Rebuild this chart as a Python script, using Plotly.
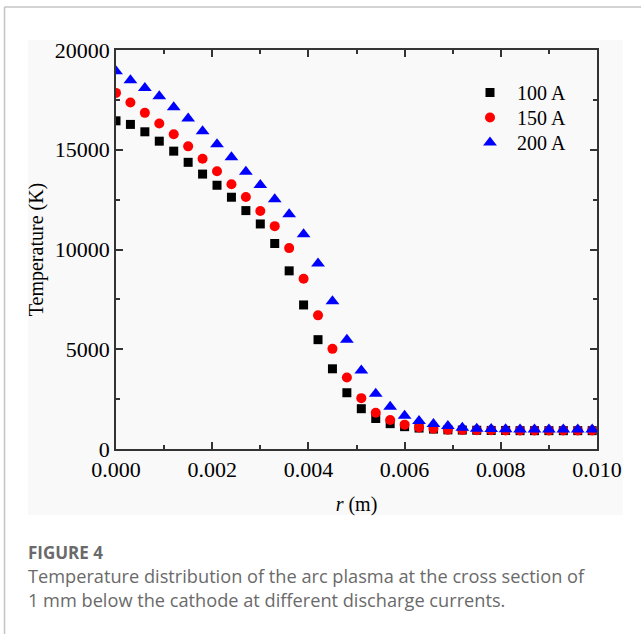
import plotly.graph_objects as go

r_m = [round(i * 0.0003, 4) for i in range(34)]

t_100A = [16450, 16270, 15900, 15430, 14930, 14370, 13780, 13220, 12620, 11950, 11280, 10300,
          8930, 7220, 5480, 4020, 2820, 2020, 1530, 1270, 1120, 1050, 1000, 960, 950, 940,
          930, 930, 920, 920, 920, 920, 920, 920]
t_150A = [17850, 17370, 16850, 16320, 15780, 15170, 14550, 13920, 13270, 12630, 11930, 11170,
          10070, 8530, 6700, 5020, 3580, 2550, 1820, 1450, 1220, 1080, 1020, 970, 950, 940,
          940, 930, 930, 930, 930, 930, 930, 930]
t_200A = [18930, 18480, 18100, 17680, 17130, 16570, 15930, 15270, 14620, 13900, 13230, 12520,
          11770, 10770, 9300, 7400, 5480, 3930, 2770, 2120, 1670, 1400, 1250, 1150, 1070, 1020,
          1000, 990, 980, 980, 980, 980, 980, 980]

series_names = ["100 A", "150 A", "200 A"]
serif = "Liberation Serif, Times New Roman, serif"

fig = go.Figure()
fig.add_trace(go.Scatter(x=r_m, y=t_100A, mode="markers", name=series_names[0], legend="legend",
                         marker=dict(symbol="square", size=9, color="#000000")))
fig.add_trace(go.Scatter(x=r_m, y=t_150A, mode="markers", name=series_names[1], legend="legend2",
                         marker=dict(symbol="circle", size=10, color="#ff0000")))
fig.add_trace(go.Scatter(x=r_m, y=t_200A, mode="markers", name=series_names[2], legend="legend3",
                         marker=dict(symbol="triangle-up", size=12, color="#0000ff")))

W, H = 641, 634
L, R, T, B = 116, 597, 50, 449
pw, ph = R - L, B - T

def px(x):
    return (x - L) / pw

def py(y):
    return (B - y) / ph

shapes = [
    dict(type="rect", xref="paper", yref="paper", x0=px(28), x1=px(623), y0=py(515), y1=py(40),
         fillcolor="#f9f9f9", line=dict(width=0), layer="below"),
    dict(type="line", xref="paper", yref="paper", x0=px(4.5), x1=px(641), y0=py(7), y1=py(7),
         line=dict(color="#c4c4c4", width=1.5)),
    dict(type="line", xref="paper", yref="paper", x0=px(4.5), x1=px(4.5), y0=py(7), y1=py(634),
         line=dict(color="#c4c4c4", width=1.5)),
]

cap_font = "Open Sans, Lato, Noto Sans, sans-serif"
annotations = [
    dict(text="<b>FIGURE 4</b>", xref="paper", yref="paper", x=px(26), y=py(552), xanchor="left",
         yanchor="middle", showarrow=False, font=dict(family=cap_font, size=17, color="#6a6a6a")),
    dict(text="Temperature distribution of the arc plasma at the cross section of", xref="paper",
         yref="paper", x=px(26), y=py(576), xanchor="left", yanchor="middle", showarrow=False,
         font=dict(family=cap_font, size=18.2, color="#6a6a6a")),
    dict(text="1 mm below the cathode at different discharge currents.", xref="paper",
         yref="paper", x=px(26), y=py(600), xanchor="left", yanchor="middle", showarrow=False,
         font=dict(family=cap_font, size=18.2, color="#6a6a6a")),
]

axis_common = dict(showgrid=False, zeroline=False, showline=True, linecolor="#333333",
                   linewidth=1.5, ticks="inside", ticklen=7, tickwidth=1.5, tickcolor="#333333",
                   mirror="allticks",
                   tickfont=dict(family=serif, size=22, color="#000000"))

def leg(top):
    return dict(x=px(463), y=py(top), xanchor="left", yanchor="top", bgcolor="rgba(0,0,0,0)",
                font=dict(family=serif, size=20, color="#000000"), itemwidth=44)

fig.update_layout(
    width=W, height=H,
    margin=dict(l=L, r=W - R, t=T, b=H - B),
    paper_bgcolor="#ffffff", plot_bgcolor="rgba(0,0,0,0)",
    showlegend=True,
    legend=leg(73), legend2=leg(98), legend3=leg(123),
    xaxis=dict(range=[0, 0.01], dtick=0.002, tickformat=".3f",
               minor=dict(dtick=0.001, ticks="inside", ticklen=4, tickwidth=1.5,
                          tickcolor="#333333"),
               title=dict(text="<i>r</i> (m)", standoff=16,
                          font=dict(family=serif, size=20, color="#000000")),
               **axis_common),
    yaxis=dict(range=[0, 20000], dtick=5000, tickformat="d",
               minor=dict(dtick=2500, ticks="inside", ticklen=4, tickwidth=1.5,
                          tickcolor="#333333"),
               title=dict(text="Temperature (K)", standoff=6,
                          font=dict(family=serif, size=20, color="#000000")),
               **axis_common),
    shapes=shapes,
    annotations=annotations,
)

fig.write_html("out.html", config={"displayModeBar": False},
               post_script="document.body.style.margin='0';")
